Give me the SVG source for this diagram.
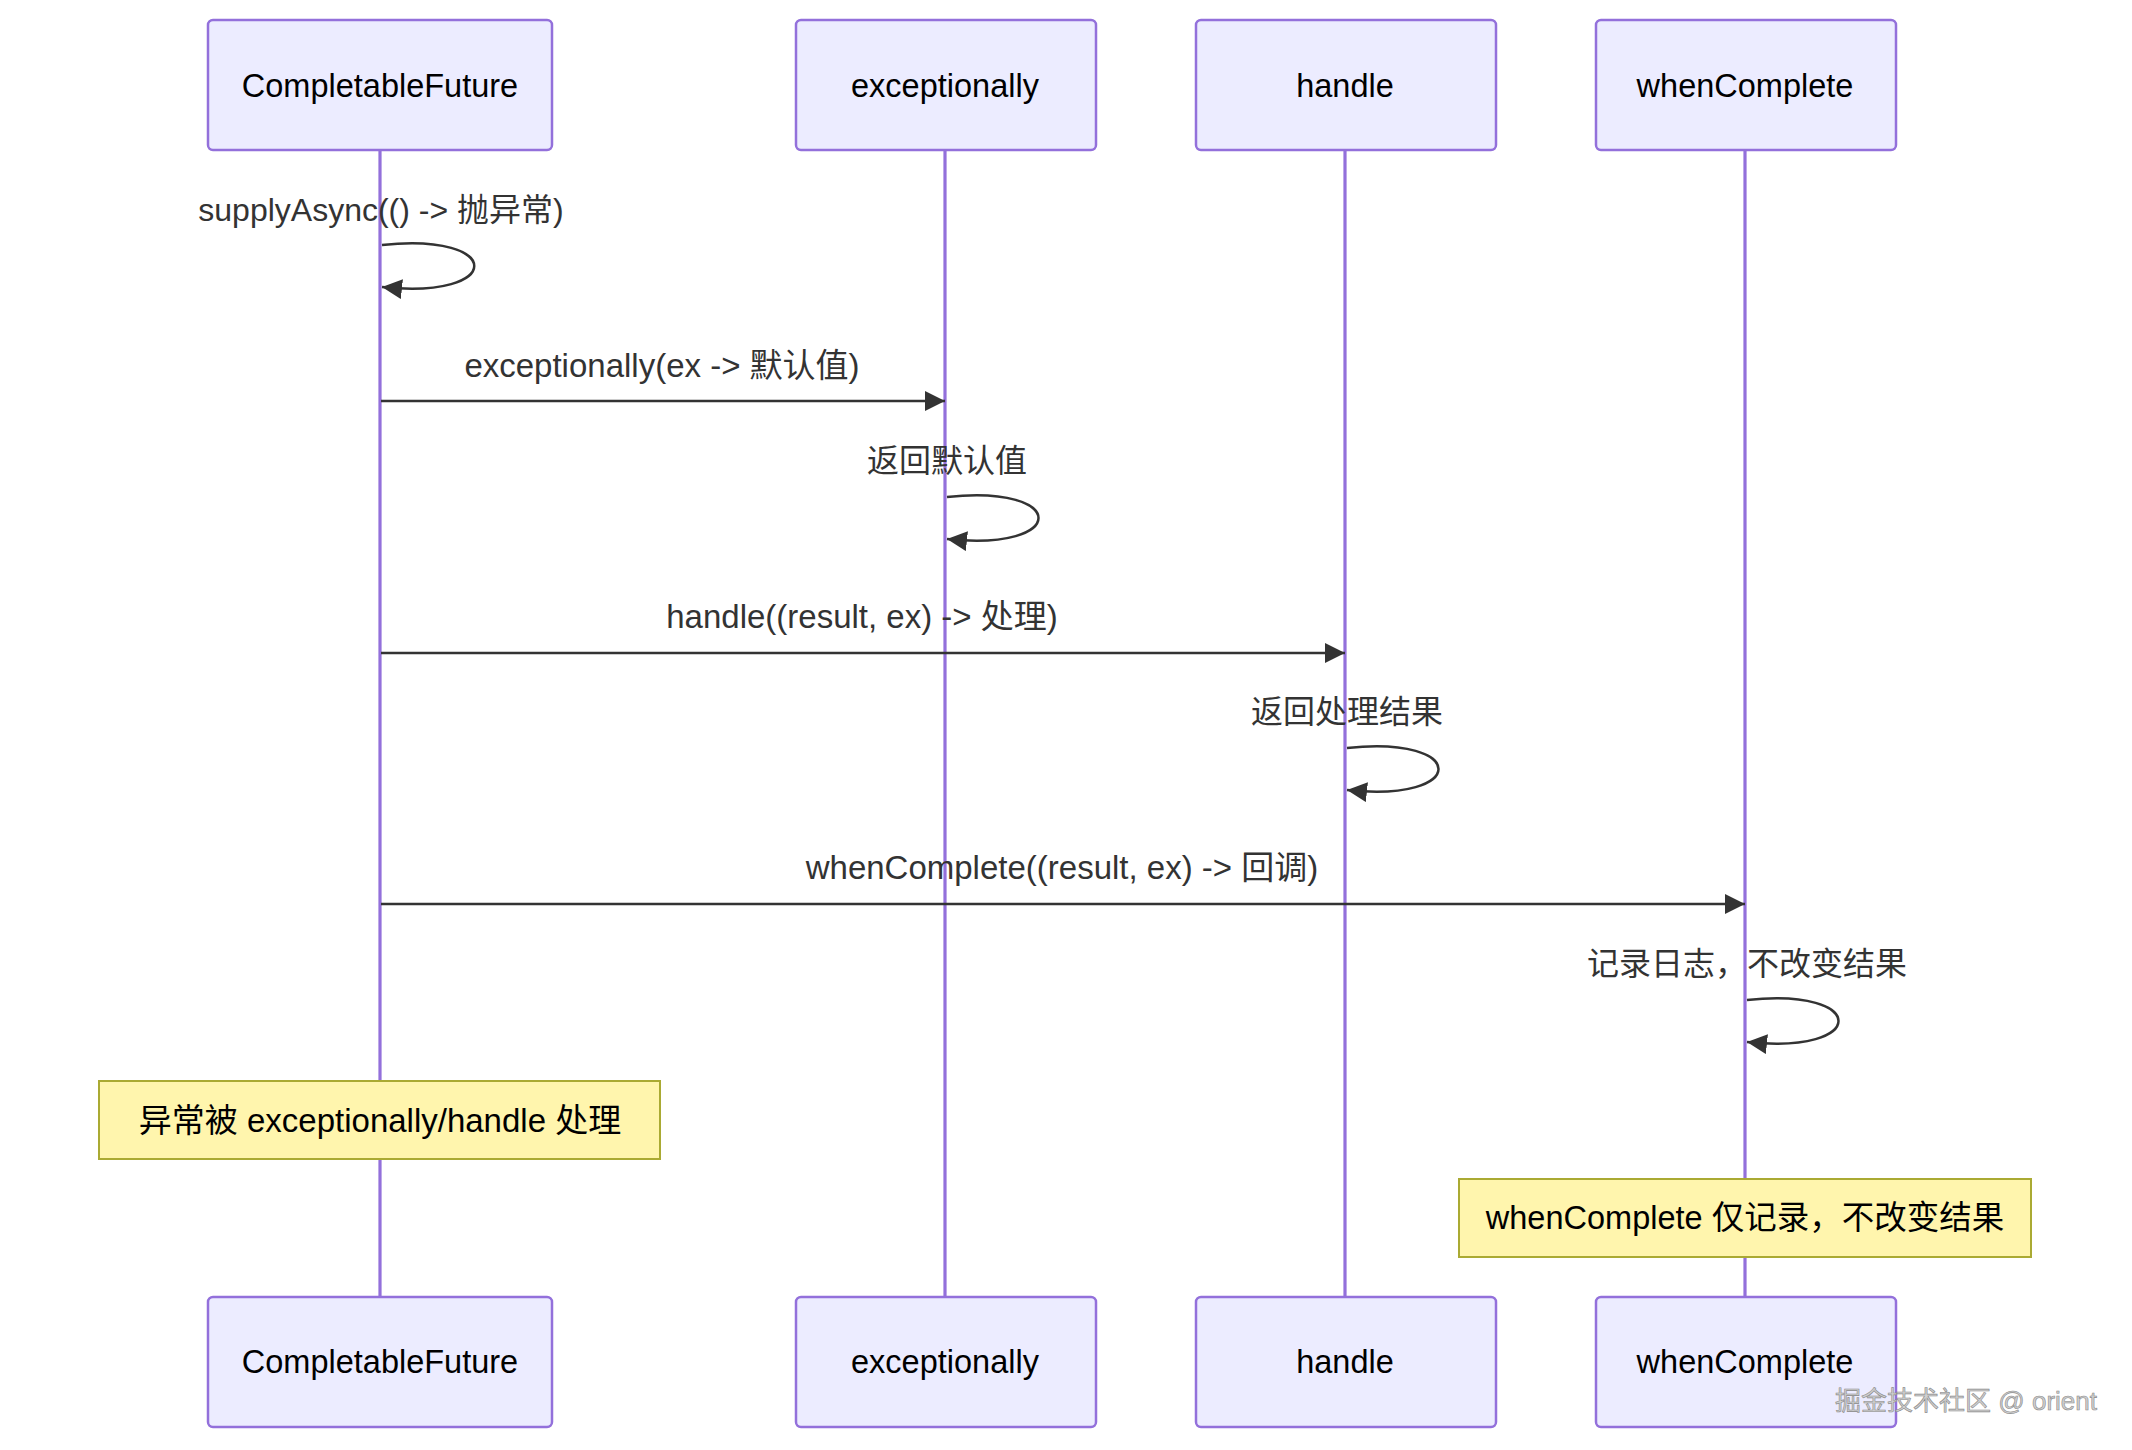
<svg xmlns="http://www.w3.org/2000/svg" width="2132" height="1450" viewBox="0 0 2132 1450">
<style>
.actor{fill:#ECECFF;stroke:#9370DB;stroke-width:2.5}
.atext{font-family:"Liberation Sans","Noto Sans CJK SC",sans-serif;font-size:32.5px;fill:#000;text-anchor:middle;dominant-baseline:central}
.life{stroke:#9370DB;stroke-width:3.2}
.msg{stroke:#333;stroke-width:2.5;fill:none}
.mtext{font-family:"Liberation Sans","Noto Sans CJK SC",sans-serif;font-size:33px;fill:#333;text-anchor:middle;dominant-baseline:central}
.mtext2{font-family:"Liberation Sans","Noto Sans CJK SC",sans-serif;font-size:32px;fill:#333;text-anchor:middle;dominant-baseline:central}
.note{fill:#FFF5AD;stroke:#AAAA33;stroke-width:2}
.ntext{font-family:"Liberation Sans","Noto Sans CJK SC",sans-serif;font-size:33px;fill:#000;text-anchor:middle;dominant-baseline:central}
.wm{font-family:"Liberation Sans","Noto Sans CJK SC",sans-serif;font-size:26px;fill:#d0d0d0;stroke:#8a8a8a;stroke-width:0.6;text-anchor:end}
</style>
<defs>
<marker id="arrow" markerUnits="userSpaceOnUse" markerWidth="22" markerHeight="20" refX="20" refY="10" orient="auto">
<path d="M0,0 L20,10 L0,20 Z" fill="#333"/>
</marker>
</defs>
<rect width="2132" height="1450" fill="#fff"/>
<g id="lifelines">
<line class="life" x1="380" y1="150" x2="380" y2="1297"/>
<line class="life" x1="945" y1="150" x2="945" y2="1297"/>
<line class="life" x1="1345" y1="150" x2="1345" y2="1297"/>
<line class="life" x1="1745" y1="150" x2="1745" y2="1297"/>
</g>
<g id="actor-cf-top"><rect class="actor" x="208" y="20" width="344" height="130" rx="5"/><text class="atext" x="380" y="86">CompletableFuture</text></g>
<g id="actor-ex-top"><rect class="actor" x="796" y="20" width="300" height="130" rx="5"/><text class="atext" x="945" y="86">exceptionally</text></g>
<g id="actor-h-top"><rect class="actor" x="1196" y="20" width="300" height="130" rx="5"/><text class="atext" x="1345" y="86">handle</text></g>
<g id="actor-wc-top"><rect class="actor" x="1596" y="20" width="300" height="130" rx="5"/><text class="atext" x="1745" y="86">whenComplete</text></g>
<g id="actor-cf-bottom"><rect class="actor" x="208" y="1297" width="344" height="130" rx="5"/><text class="atext" x="380" y="1362">CompletableFuture</text></g>
<g id="actor-ex-bottom"><rect class="actor" x="796" y="1297" width="300" height="130" rx="5"/><text class="atext" x="945" y="1362">exceptionally</text></g>
<g id="actor-h-bottom"><rect class="actor" x="1196" y="1297" width="300" height="130" rx="5"/><text class="atext" x="1345" y="1362">handle</text></g>
<g id="actor-wc-bottom"><rect class="actor" x="1596" y="1297" width="300" height="130" rx="5"/><text class="atext" x="1745" y="1362">whenComplete</text></g>
<g id="connectors">
<text class="mtext2" x="381" y="210">supplyAsync(() -&gt; 抛异常)</text>
<path class="msg" d="M382,245 C505,232 505,300 382,287" marker-end="url(#arrow)"/>
<text class="mtext" x="662" y="365">exceptionally(ex -&gt; 默认值)</text>
<line class="msg" x1="381" y1="401" x2="945" y2="401" marker-end="url(#arrow)"/>
<text class="mtext2" x="947" y="461">返回默认值</text>
<path class="msg" d="M947,497 C1069,484 1069,552 947,539" marker-end="url(#arrow)"/>
<text class="mtext" x="862" y="616">handle((result, ex) -&gt; 处理)</text>
<line class="msg" x1="381" y1="653" x2="1345" y2="653" marker-end="url(#arrow)"/>
<text class="mtext2" x="1347" y="712">返回处理结果</text>
<path class="msg" d="M1347,748 C1469,735 1469,803 1347,790" marker-end="url(#arrow)"/>
<text class="mtext" x="1062" y="867">whenComplete((result, ex) -&gt; 回调)</text>
<line class="msg" x1="381" y1="904" x2="1745" y2="904" marker-end="url(#arrow)"/>
<text class="mtext2" x="1747" y="964">记录日志，不改变结果</text>
<path class="msg" d="M1747,1000 C1869,987 1869,1055 1747,1042" marker-end="url(#arrow)"/>
</g>
<g id="note-1"><rect class="note" x="99" y="1081" width="561" height="78"/><text class="ntext" x="380" y="1120">异常被 exceptionally/handle 处理</text></g>
<g id="note-2"><rect class="note" x="1459" y="1179" width="572" height="78"/><text class="ntext" x="1745" y="1218" style="font-size:32.5px">whenComplete 仅记录，不改变结果</text></g>
<text class="wm" x="2097" y="1410">掘金技术社区 @ orient</text>
</svg>
